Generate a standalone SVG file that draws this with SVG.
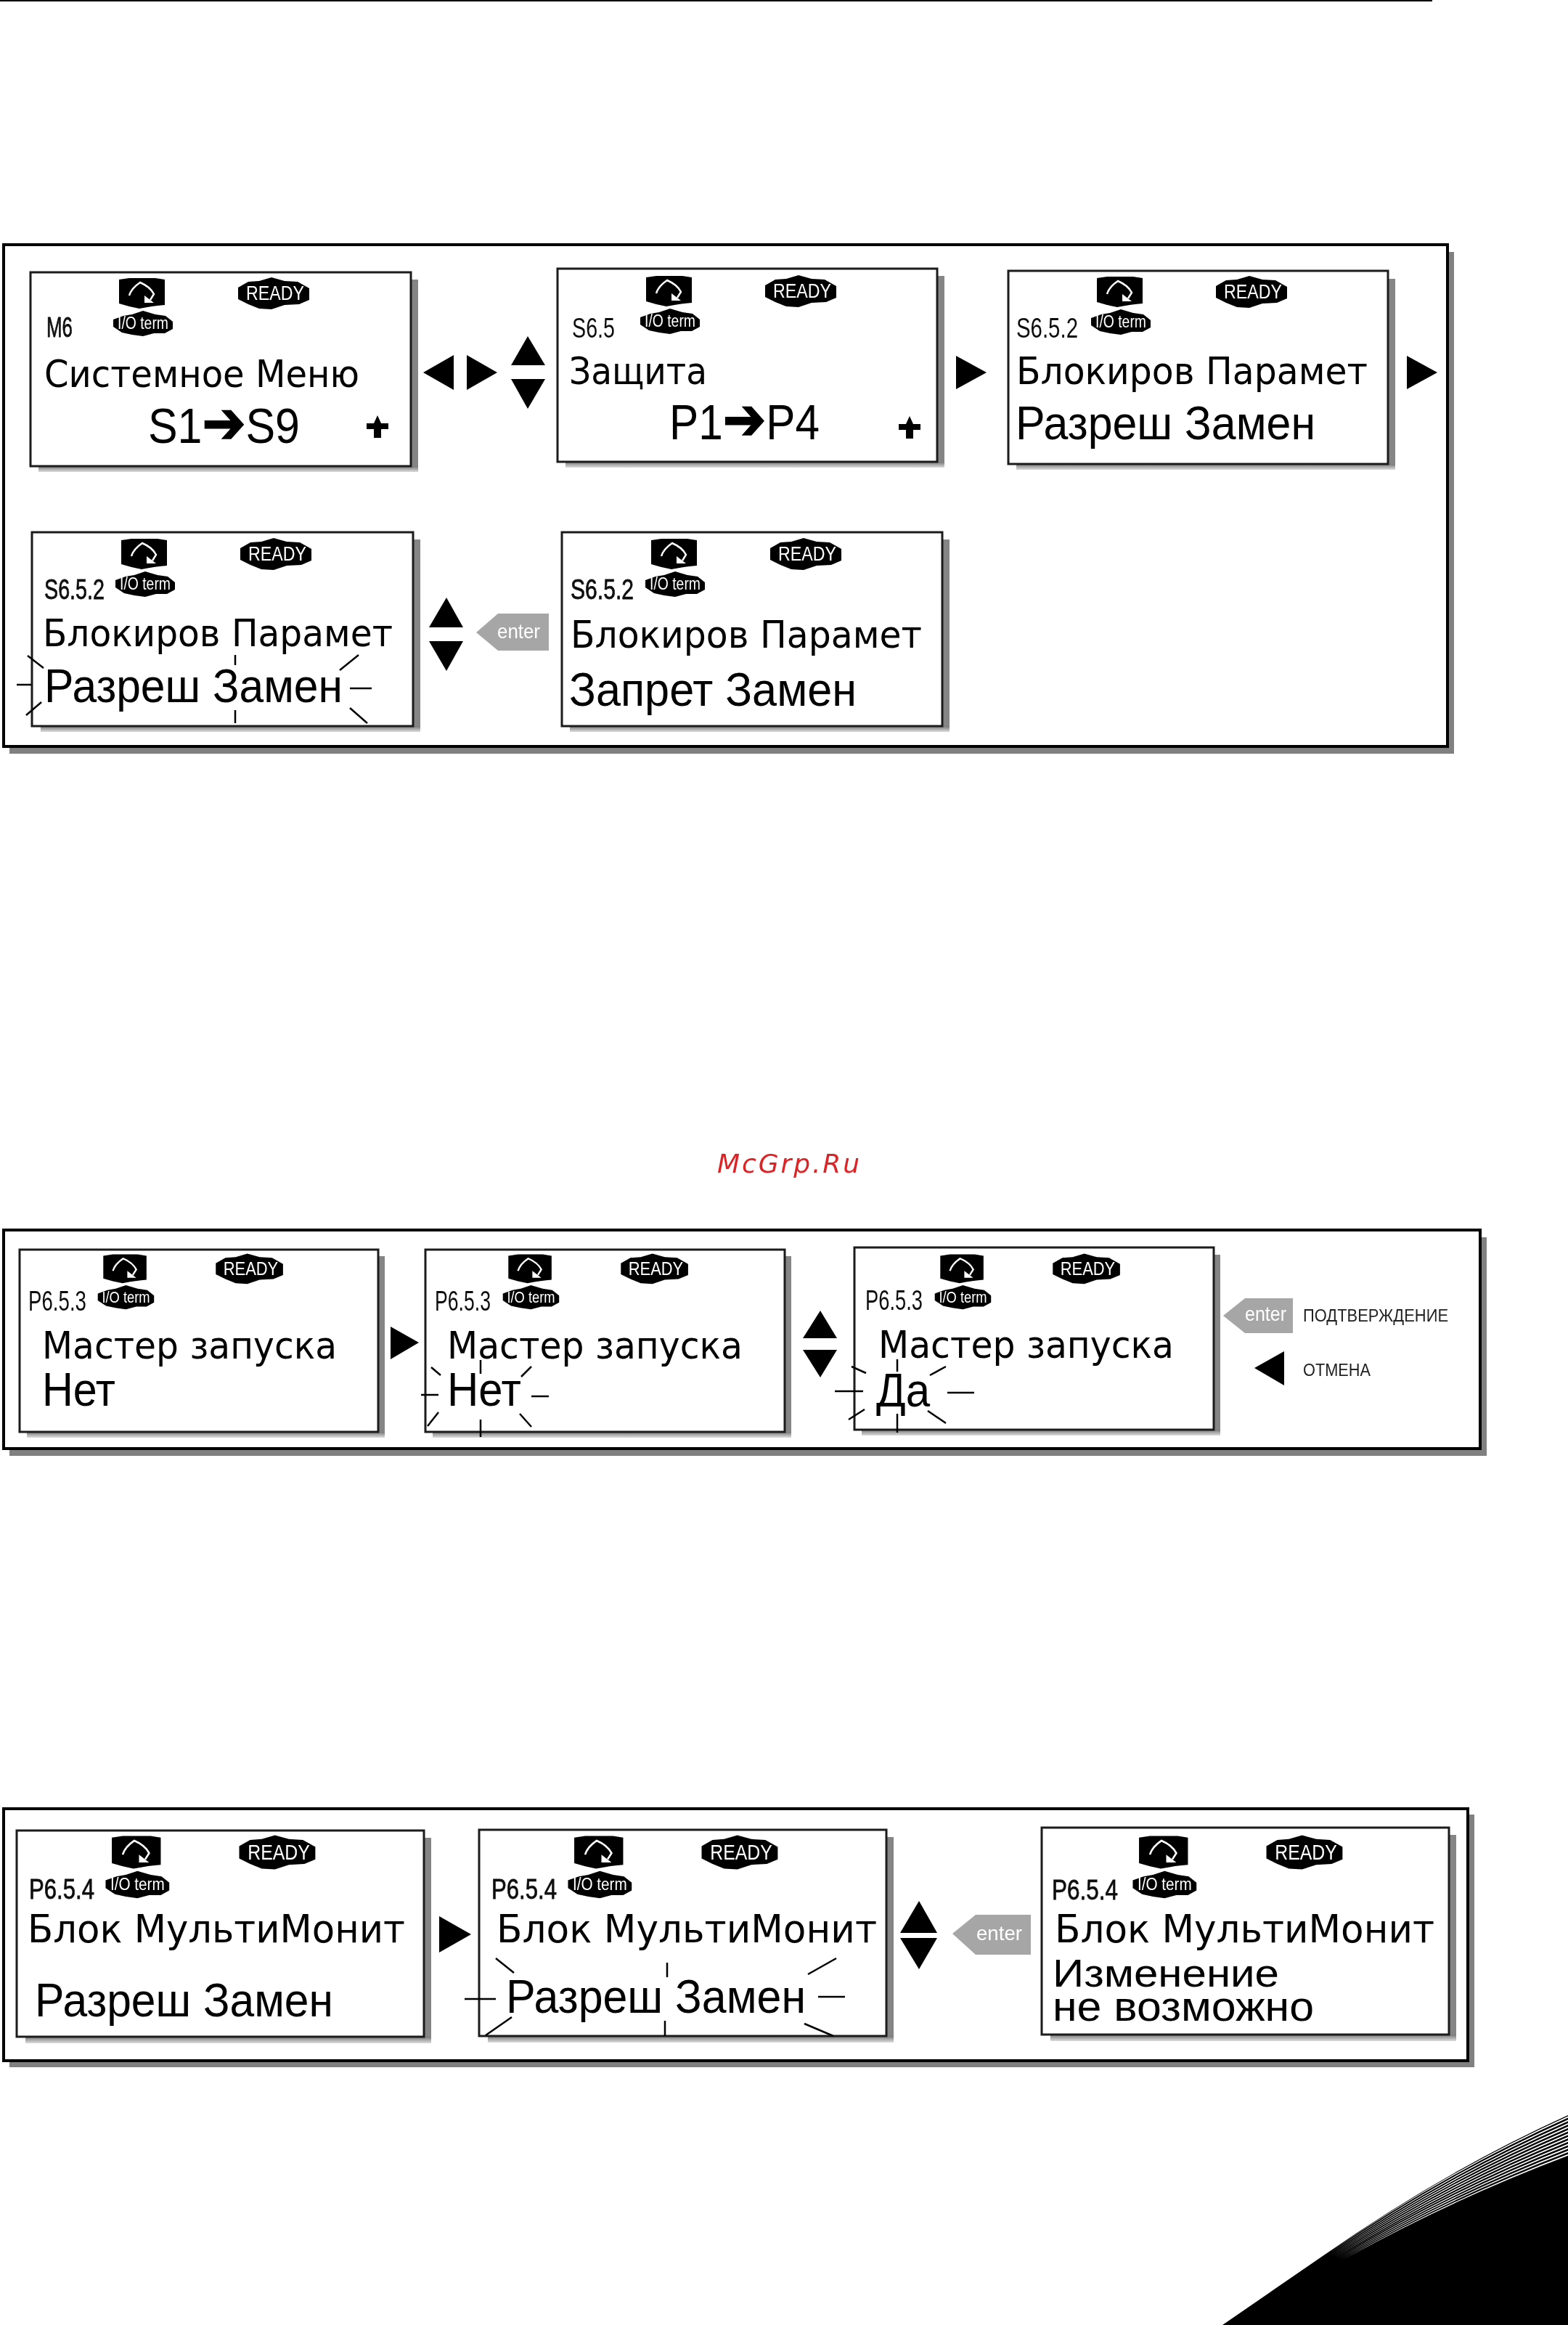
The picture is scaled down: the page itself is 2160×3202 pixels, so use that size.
<svg xmlns="http://www.w3.org/2000/svg" width="2160" height="3202" viewBox="0 0 2160 3202">
<style>
text{font-family:"Liberation Sans",Arial,sans-serif;fill:#000}
.m{font-family:"DejaVu Sans","Liberation Sans",sans-serif}
.m1{font-size:52px}.m2{font-size:51px}.m3{font-size:54px}
.v{font-size:64px}
.s{font-size:68px}
.c{font-size:39px;fill:#111}
.cb{stroke:#111;stroke-width:0.8}
.arr{font-family:"DejaVu Sans",sans-serif;font-weight:bold;font-size:80px;stroke:#000;stroke-width:2}
.w25{fill:#fff;font-size:27px}
.w21{fill:#fff;font-size:23px}
.ent{fill:#fff;font-size:28px}
.lab{font-size:23px;fill:#222}
.panel{fill:#fff;stroke:#000;stroke-width:4}
.pshadow{fill:#808080}
.box{fill:#fff;stroke:#1a1a1a;stroke-width:3}
.sr{fill:#858585}
.sb{fill:url(#fade)}
.tick{stroke:#000;stroke-width:2.5;fill:none}
.tag{fill:#a6a6a6}
.tri{fill:#000}
.gap{fill:#fff}
</style>
<defs>
<linearGradient id="fade" x1="0" y1="0" x2="0" y2="1"><stop offset="0" stop-color="#777"/><stop offset="0.5" stop-color="#aaa"/><stop offset="1" stop-color="#ddd"/></linearGradient>
<filter id="soft" filterUnits="userSpaceOnUse" x="0" y="300" width="2160" height="2600"><feGaussianBlur stdDeviation="0.55"/></filter>
<g id="rot"><path d="M122,10L136,8L172,8L185,10L185,45Q170,46 150,50L136,47L122,43Z" fill="#000"/><path d="M136,32Q139,22 151,14Q165,20 170,30L165,38" fill="none" stroke="#fff" stroke-width="2.500"/><path d="M157,32L170,42L157,42Z" fill="#fff"/></g>
<path id="rdy" d="M286,21L300,13L315,12L332,7L350,12L368,13L384,22L384,38L370,44L350,45L332,51L315,50L300,44L286,37Z" fill="#000"/>
<path id="iop" d="M114,65L128,60L140,58L155,53L172,58L186,60L196,68L196,78L185,84L170,84L155,88L140,86L126,83L114,75Z" fill="#000"/>
<path id="plus" d="M0,-15L5,-4L15,-4L15,4L5,4L5,16L-5,16L-5,4L-15,4L-15,-4L-5,-4Z" fill="#000"/>
</defs>

<rect id="top-rule" x="0" y="0" width="1973" height="2" fill="#000"/>

<g filter="url(#soft)">
<g id="panel-1">
<rect class="pshadow" x="13" y="347" width="1990" height="691"/>
<rect class="panel" x="5" y="337" width="1989" height="691"/>
</g>
<g id="panel-2">
<rect class="pshadow" x="13" y="1704" width="2035" height="301"/>
<rect class="panel" x="5" y="1694" width="2034" height="301"/>
</g>
<g id="panel-3">
<rect class="pshadow" x="13" y="2499" width="2018" height="348"/>
<rect class="panel" x="5" y="2491" width="2017" height="347"/>
</g>

<g id="node-m6">
<rect class="sr" x="566" y="385" width="10" height="262"/><rect class="sb" x="53" y="642" width="523" height="8"/>
<rect class="box" x="42" y="375" width="524" height="267"/>
<g transform="translate(42,375)"><use href="#rot"/><use href="#rdy"/><use href="#iop"/><text class="w25" x="297" y="38" textLength="80" lengthAdjust="spacingAndGlyphs">READY</text><text class="w21" x="120" y="78" textLength="70" lengthAdjust="spacingAndGlyphs">I/O term</text></g>
<text class="c cb" x="64" y="464" textLength="36" lengthAdjust="spacingAndGlyphs">M6</text>
<text class="m m1" x="61" y="533" textLength="434" lengthAdjust="spacingAndGlyphs">Системное Меню</text>
<text class="s" x="204" y="610" textLength="209" lengthAdjust="spacingAndGlyphs">S1<tspan class="arr">➔</tspan>S9</text>
<use href="#plus" x="520" y="587"/>
</g>

<g id="node-s65">
<rect class="sr" x="1291" y="380" width="10" height="262"/><rect class="sb" x="779" y="636" width="522" height="8"/>
<rect class="box" x="768" y="370" width="523" height="266"/>
<g transform="translate(768,372)"><use href="#rot"/><use href="#rdy"/><use href="#iop"/><text class="w25" x="297" y="38" textLength="80" lengthAdjust="spacingAndGlyphs">READY</text><text class="w21" x="120" y="78" textLength="70" lengthAdjust="spacingAndGlyphs">I/O term</text></g>
<text class="c" x="788" y="465" textLength="59" lengthAdjust="spacingAndGlyphs">S6.5</text>
<text class="m m1" x="784" y="529" textLength="190" lengthAdjust="spacingAndGlyphs">Защита</text>
<text class="s" x="922" y="605" textLength="207" lengthAdjust="spacingAndGlyphs">P1<tspan class="arr">➔</tspan>P4</text>
<use href="#plus" x="1253" y="588"/>
</g>

<g id="node-s652-a">
<rect class="sr" x="1912" y="384" width="10" height="262"/><rect class="sb" x="1400" y="639" width="522" height="8"/>
<rect class="box" x="1389" y="373" width="523" height="266"/>
<g transform="translate(1389,373)"><use href="#rot"/><use href="#rdy"/><use href="#iop"/><text class="w25" x="297" y="38" textLength="80" lengthAdjust="spacingAndGlyphs">READY</text><text class="w21" x="120" y="78" textLength="70" lengthAdjust="spacingAndGlyphs">I/O term</text></g>
<text class="c" x="1400" y="465" textLength="85" lengthAdjust="spacingAndGlyphs">S6.5.2</text>
<text class="m m1" x="1400" y="529" textLength="484" lengthAdjust="spacingAndGlyphs">Блокиров Парамет</text>
<text class="v" x="1399" y="605" textLength="413" lengthAdjust="spacingAndGlyphs">Разреш Замен</text>
</g>

<g id="node-s652-b">
<rect class="sr" x="569" y="743" width="10" height="262"/><rect class="sb" x="56" y="1000" width="523" height="8"/>
<rect class="box" x="44" y="733" width="525" height="267"/>
<g transform="translate(45,734)"><use href="#rot"/><use href="#rdy"/><use href="#iop"/><text class="w25" x="297" y="38" textLength="80" lengthAdjust="spacingAndGlyphs">READY</text><text class="w21" x="120" y="78" textLength="70" lengthAdjust="spacingAndGlyphs">I/O term</text></g>
<text class="c cb" x="61" y="825" textLength="83" lengthAdjust="spacingAndGlyphs">S6.5.2</text>
<text class="m m1" x="59" y="890" textLength="482" lengthAdjust="spacingAndGlyphs">Блокиров Парамет</text>
<text class="v" x="61" y="967" textLength="411" lengthAdjust="spacingAndGlyphs">Разреш Замен</text>
<path class="tick" d="M38,903L60,920M23,943H43M36,985L57,967M324,902V916M324,978V996M494,902L468,923M482,948H512M482,975L506,996"/>
</g>

<g id="node-s652-c">
<rect class="sr" x="1298" y="743" width="10" height="262"/><rect class="sb" x="785" y="1000" width="523" height="8"/>
<rect class="box" x="774" y="733" width="524" height="267"/>
<g transform="translate(775,734)"><use href="#rot"/><use href="#rdy"/><use href="#iop"/><text class="w25" x="297" y="38" textLength="80" lengthAdjust="spacingAndGlyphs">READY</text><text class="w21" x="120" y="78" textLength="70" lengthAdjust="spacingAndGlyphs">I/O term</text></g>
<text class="c cb" x="786" y="825" textLength="87" lengthAdjust="spacingAndGlyphs">S6.5.2</text>
<text class="m m1" x="786" y="892" textLength="484" lengthAdjust="spacingAndGlyphs">Блокиров Парамет</text>
<text class="v" x="784" y="972" textLength="396" lengthAdjust="spacingAndGlyphs">Запрет Замен</text>
</g>

<g id="node-p653-a">
<rect class="sr" x="521" y="1730" width="9" height="247"/><rect class="sb" x="37" y="1972" width="493" height="8"/>
<rect class="box" x="27" y="1721" width="494" height="251"/>
<g transform="translate(27,1720) scale(0.945)"><use href="#rot"/><use href="#rdy"/><use href="#iop"/><text class="w25" x="297" y="38" textLength="80" lengthAdjust="spacingAndGlyphs">READY</text><text class="w21" x="120" y="78" textLength="70" lengthAdjust="spacingAndGlyphs">I/O term</text></g>
<text class="c" x="39" y="1805" textLength="80" lengthAdjust="spacingAndGlyphs">P6.5.3</text>
<text class="m m2" x="58" y="1871" textLength="406" lengthAdjust="spacingAndGlyphs">Мастер запуска</text>
<text class="v" x="58" y="1936" textLength="101" lengthAdjust="spacingAndGlyphs">Нет</text>
</g>

<g id="node-p653-b">
<rect class="sr" x="1081" y="1730" width="9" height="247"/><rect class="sb" x="596" y="1972" width="494" height="8"/>
<rect class="box" x="586" y="1721" width="495" height="251"/>
<g transform="translate(585,1720) scale(0.945)"><use href="#rot"/><use href="#rdy"/><use href="#iop"/><text class="w25" x="297" y="38" textLength="80" lengthAdjust="spacingAndGlyphs">READY</text><text class="w21" x="120" y="78" textLength="70" lengthAdjust="spacingAndGlyphs">I/O term</text></g>
<text class="c" x="599" y="1805" textLength="77" lengthAdjust="spacingAndGlyphs">P6.5.3</text>
<text class="m m2" x="616" y="1871" textLength="407" lengthAdjust="spacingAndGlyphs">Мастер запуска</text>
<text class="v" x="616" y="1936" textLength="102" lengthAdjust="spacingAndGlyphs">Нет</text>
<path class="tick" d="M594,1883L607,1894M580,1921H604M589,1964L604,1945M662,1873V1892M662,1955V1979M732,1882L718,1896M732,1923H756M716,1947L732,1965"/>
</g>

<g id="node-p653-c">
<rect class="sr" x="1672" y="1728" width="9" height="247"/><rect class="sb" x="1187" y="1969" width="494" height="8"/>
<rect class="box" x="1177" y="1718" width="495" height="251"/>
<g transform="translate(1180,1720) scale(0.945)"><use href="#rot"/><use href="#rdy"/><use href="#iop"/><text class="w25" x="297" y="38" textLength="80" lengthAdjust="spacingAndGlyphs">READY</text><text class="w21" x="120" y="78" textLength="70" lengthAdjust="spacingAndGlyphs">I/O term</text></g>
<text class="c" x="1192" y="1804" textLength="79" lengthAdjust="spacingAndGlyphs">P6.5.3</text>
<text class="m m2" x="1210" y="1870" textLength="407" lengthAdjust="spacingAndGlyphs">Мастер запуска</text>
<text class="v" x="1207" y="1937" textLength="74" lengthAdjust="spacingAndGlyphs">Да</text>
<path class="tick" d="M1173,1882L1193,1891M1150,1916H1189M1169,1955L1191,1941M1236,1872V1889M1236,1947V1973M1303,1882L1281,1894M1305,1918H1342M1278,1943L1303,1960"/>
</g>

<g id="node-p654-a">
<rect class="sr" x="584" y="2531" width="10" height="280"/><rect class="sb" x="35" y="2805" width="559" height="9"/>
<rect class="box" x="23" y="2521" width="561" height="284"/>
<g transform="translate(23.500,2520) scale(1.07)"><use href="#rot"/><use href="#rdy"/><use href="#iop"/><text class="w25" x="297" y="38" textLength="80" lengthAdjust="spacingAndGlyphs">READY</text><text class="w21" x="120" y="78" textLength="70" lengthAdjust="spacingAndGlyphs">I/O term</text></g>
<text class="c cb" x="40" y="2615" textLength="90" lengthAdjust="spacingAndGlyphs">P6.5.4</text>
<text class="m m3" x="38" y="2675" textLength="520" lengthAdjust="spacingAndGlyphs">Блок МультиМонит</text>
<text class="v" x="48" y="2777" textLength="411" lengthAdjust="spacingAndGlyphs">Разреш Замен</text>
</g>

<g id="node-p654-b">
<rect class="sr" x="1221" y="2530" width="10" height="280"/><rect class="sb" x="672" y="2804" width="559" height="9"/>
<rect class="box" x="660" y="2520" width="561" height="284"/>
<g transform="translate(660.500,2520) scale(1.07)"><use href="#rot"/><use href="#rdy"/><use href="#iop"/><text class="w25" x="297" y="38" textLength="80" lengthAdjust="spacingAndGlyphs">READY</text><text class="w21" x="120" y="78" textLength="70" lengthAdjust="spacingAndGlyphs">I/O term</text></g>
<text class="c cb" x="677" y="2615" textLength="90" lengthAdjust="spacingAndGlyphs">P6.5.4</text>
<text class="m m3" x="684" y="2675" textLength="524" lengthAdjust="spacingAndGlyphs">Блок МультиМонит</text>
<text class="v" x="697" y="2772" textLength="413" lengthAdjust="spacingAndGlyphs">Разреш Замен</text>
<path class="tick" d="M683,2697L708,2717M640,2753H683M669,2803L705,2778M919,2703V2723M916,2783V2804M1152,2697L1113,2719M1127,2750H1164M1108,2787L1148,2804"/>
</g>

<g id="node-p654-c">
<rect class="sr" x="1996" y="2527" width="10" height="280"/><rect class="sb" x="1447" y="2802" width="559" height="9"/>
<rect class="box" x="1435" y="2517" width="561" height="285"/>
<g transform="translate(1438.500,2520) scale(1.07)"><use href="#rot"/><use href="#rdy"/><use href="#iop"/><text class="w25" x="297" y="38" textLength="80" lengthAdjust="spacingAndGlyphs">READY</text><text class="w21" x="120" y="78" textLength="70" lengthAdjust="spacingAndGlyphs">I/O term</text></g>
<text class="c cb" x="1449" y="2616" textLength="91" lengthAdjust="spacingAndGlyphs">P6.5.4</text>
<text class="m m3" x="1453" y="2675" textLength="523" lengthAdjust="spacingAndGlyphs">Блок МультиМонит</text>
<text x="1450" y="2736" font-size="54" textLength="312" lengthAdjust="spacingAndGlyphs">Изменение</text>
<text x="1450" y="2783" font-size="58" textLength="360" lengthAdjust="spacingAndGlyphs">не возможно</text>
</g>

<g id="enter-1"><path class="tag" d="M656,871L686,845H756V896H686Z"/><text class="ent" x="685" y="879" textLength="59" lengthAdjust="spacingAndGlyphs">enter</text></g>
<g id="enter-2"><path class="tag" d="M1685,1812L1715,1788H1781V1836H1715Z"/><text class="ent" x="1715" y="1819" textLength="57" lengthAdjust="spacingAndGlyphs">enter</text></g>
<g id="enter-3"><path class="tag" d="M1312,2663L1344,2637H1420V2692H1344Z"/><text class="ent" x="1345" y="2672" textLength="63" lengthAdjust="spacingAndGlyphs">enter</text></g>

<g id="legend">
<text class="lab" x="1795" y="1820" textLength="200" lengthAdjust="spacingAndGlyphs">ПОДТВЕРЖДЕНИЕ</text>
<path class="tri" d="M1728,1884L1769,1861V1908Z"/>
<text class="lab" x="1795" y="1895" textLength="93" lengthAdjust="spacingAndGlyphs">ОТМЕНА</text>
</g>

<g id="connectors">
<path class="tri" d="M583,513L625,489V537Z"/>
<path class="tri" d="M685,513L643,489V537Z"/>
<path class="tri" d="M727,463L751,503H704Z"/>
<path class="tri" d="M727,563L751,522H704Z"/>
<path class="tri" d="M1359,513L1317,490V536Z"/>
<path class="tri" d="M1980,513L1938,490V536Z"/>
<path class="tri" d="M615,823L638,864H591Z"/>
<path class="tri" d="M615,924L638,883H591Z"/>
<path class="tri" d="M577,1849L538,1827V1872Z"/>
<path class="tri" d="M1130,1805L1153,1843H1106Z"/>
<path class="tri" d="M1130,1897L1153,1859H1106Z"/>
<path class="tri" d="M649,2664L605,2639V2689Z"/>
<path class="tri" d="M1266,2618L1291,2662H1240Z"/>
<path class="tri" d="M1266,2712L1291,2669H1240Z"/>
</g>
</g>

<text id="watermark" x="988" y="1615" font-size="36" font-style="italic" textLength="196" lengthAdjust="spacing" style="font-family:'DejaVu Sans',sans-serif;fill:#dc2426">McGrp.Ru</text>

<g id="swoosh">
<path d="M1684,3202L1825,3105Q1990,2990 2160,2913V3202Z" fill="#000"/>
<path class="gap" d="M1826.100,3105.400Q1990.250,2991 2160,2914.400V2916.600Q1990.600,2992.500 1826.100,3105.400Z"/>
<path class="gap" d="M1828.200,3106Q1991.100,2994.300 2160,2919.200V2921.300Q1991.500,2995.800 1828.200,3106Z"/>
<path class="gap" d="M1830.300,3106.700Q1991.900,2997.700 2160,2923.900V2926.100Q1992.300,2999.200 1830.300,3106.700Z"/>
<path class="gap" d="M1832.300,3107.400Q1992.750,3001 2160,2928.700V2930.800Q1993.100,3002.500 1832.300,3107.400Z"/>
<path class="gap" d="M1834.400,3108Q1993.600,3004.300 2160,2933.400V2935.600Q1994,3005.800 1834.400,3108Z"/>
<path class="gap" d="M1836.500,3108.700Q1994.400,3007.700 2160,2938.200V2940.300Q1994.800,3009.200 1836.500,3108.700Z"/>
<path class="gap" d="M1838.600,3109.400Q1995.250,3011 2160,2942.900V2945.100Q1995.600,3012.500 1838.600,3109.400Z"/>
<path class="gap" d="M1840.700,3110Q1996.100,3014.300 2160,2947.700V2949.800Q1996.500,3015.800 1840.700,3110Z"/>
<path class="gap" d="M1842.800,3110.700Q1996.900,3017.700 2160,2952.400V2954.600Q1997.300,3019.200 1842.800,3110.700Z"/>
<path class="gap" d="M1844.800,3111.400Q1997.750,3021 2160,2957.200V2959.300Q1998.100,3022.500 1844.800,3111.400Z"/>
<path class="gap" d="M1846.900,3112Q1998.600,3024.300 2160,2961.900V2964.100Q1999,3025.800 1846.900,3112Z"/>
<path class="gap" d="M1849,3112.700Q1999.400,3027.700 2160,2966.700V2968.800Q1999.800,3029.200 1849,3112.700Z"/>
</g>
</svg>
